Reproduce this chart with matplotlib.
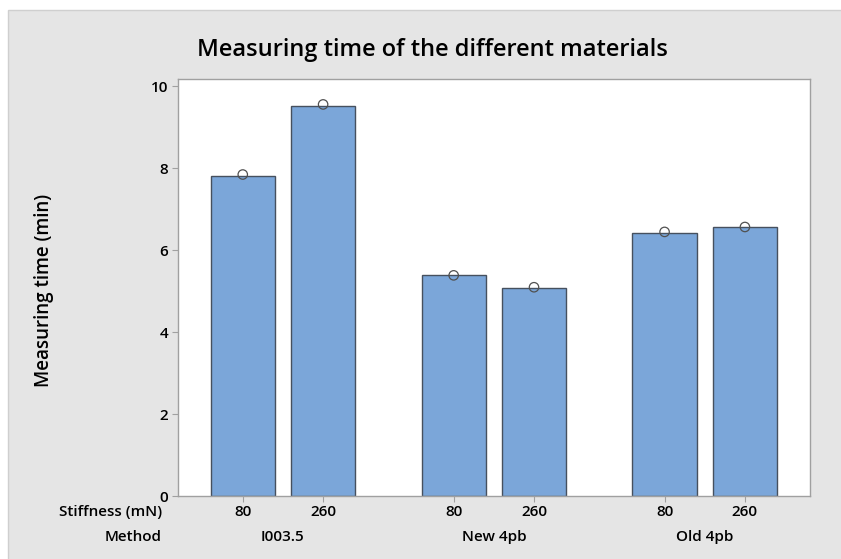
import matplotlib
matplotlib.use("Agg")
import matplotlib.pyplot as plt
import matplotlib.transforms as mtransforms
from matplotlib.patches import Rectangle

plt.rcParams['font.family'] = ['Open Sans', 'DejaVu Sans']

methods = ["I003.5", "New 4pb", "Old 4pb"]
stiffness = ["80", "260"]
bar_means = [7.81, 9.52, 5.39, 5.09, 6.42, 6.56]
point_values = [7.85, 9.56, 5.39, 5.10, 6.45, 6.57]

group_step = 2.625
positions = [g * group_step + i for g in range(len(methods)) for i in range(len(stiffness))]

W, H = 841, 559
fig = plt.figure(figsize=(W / 100, H / 100), dpi=100)
fig.patch.set_facecolor("white")

# gray panel behind the chart
panel = Rectangle((8 / W, -0.01), 1 - 8 / W + 0.01, 1 - 10 / H + 0.01,
                  transform=fig.transFigure, facecolor="#E5E5E5",
                  edgecolor="#CFCFCF", linewidth=1.0, zorder=0)
fig.add_artist(panel)

left, right, top, bottom = 178, 810, 79, 496.3
ax = fig.add_axes([left / W, 1 - bottom / H, (right - left) / W, (bottom - top) / H])
ax.set_facecolor("white")

bar_color = "#7BA6D9"
edge_color = "#46505E"
ax.bar(positions, bar_means, width=0.8, color=bar_color, edgecolor=edge_color,
       linewidth=1.0, zorder=2)
ax.scatter(positions, point_values, s=46, facecolors="none", edgecolors="#505050",
           linewidths=0.9, zorder=3)

ax.set_xlim(positions[0] - 0.806, positions[-1] + 0.81)
ax.set_ylim(0, 10.18)
ax.set_yticks([0, 2, 4, 6, 8, 10])
ax.set_xticks(positions)
ax.set_xticklabels(stiffness * len(methods))

for s in ax.spines.values():
    s.set_color("#A0A0A0")
    s.set_linewidth(1.0)

ax.tick_params(axis="both", colors="#A0A0A0", labelcolor="black", length=4, width=0.8,
               labelsize=11)
ax.tick_params(axis="x", pad=2.5)
ax.tick_params(axis="y", pad=3)
for lbl in ax.get_xticklabels() + ax.get_yticklabels():
    lbl.set_fontweight("semibold")

# method labels under the stiffness ticks
below = mtransforms.ScaledTranslation(0, -40.4 / 100, fig.dpi_scale_trans)
for g, m in enumerate(methods):
    xc = g * group_step + 0.5
    ax.text(xc, 0, m, transform=ax.get_xaxis_transform() + below, ha="center",
            va="center", fontsize=11, fontweight="semibold")

fig.text(162 / W, 1 - 511.7 / H, "Stiffness (mN)", ha="right", va="center",
         fontsize=11, fontweight="semibold")
fig.text(162 / W, 1 - 536.7 / H, "Method", ha="right", va="center",
         fontsize=11, fontweight="semibold")

fig.text(432 / W, 1 - 50 / H, "Measuring time of the different materials",
         ha="center", va="center", fontsize=17, fontweight="semibold")
fig.text(44 / W, 1 - 290 / H, "Measuring time (min)", ha="center", va="center",
         rotation=90, fontsize=13.5, fontweight="semibold")

fig.savefig("out.png", dpi=100, facecolor=fig.get_facecolor())
